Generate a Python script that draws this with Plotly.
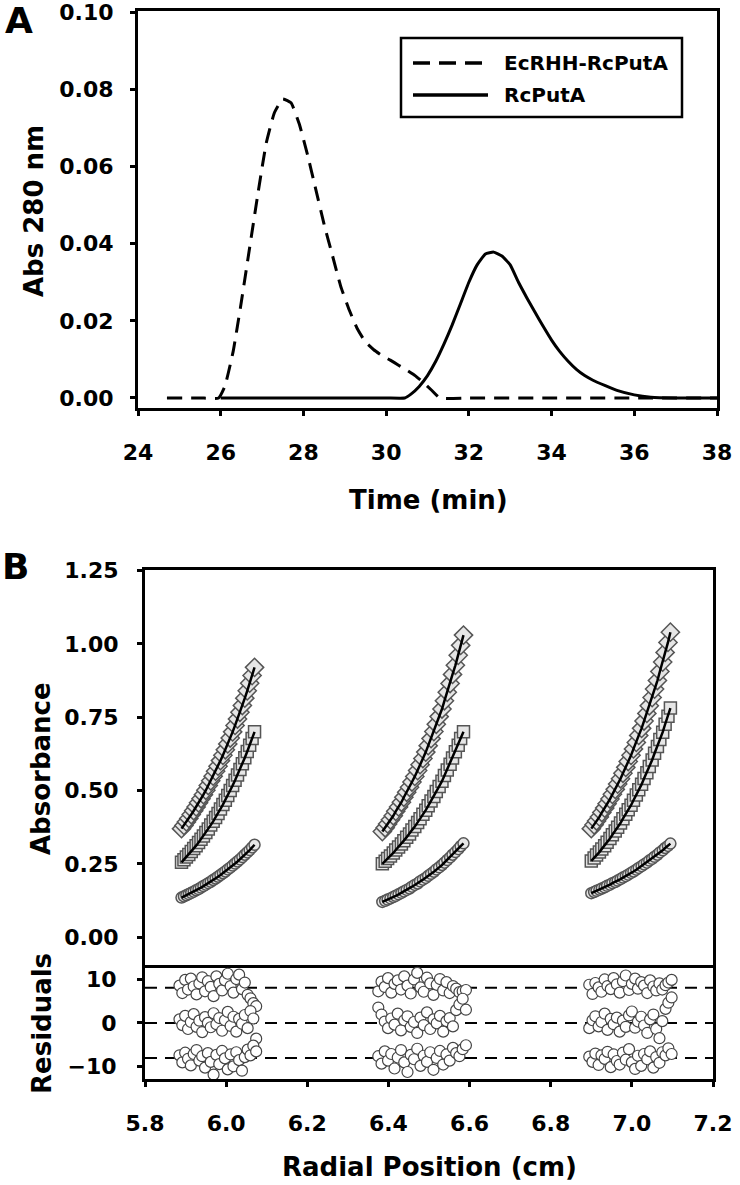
import plotly.graph_objects as go

W, H = 740, 1185
def px(x):
    return x / W
def py(y):
    return 1 - y / H

FONT = "DejaVu Sans"

# ---------------- Panel A: elution profiles ----------------
time_ec = [24.7, 25.5, 25.95, 26.1, 26.3, 26.5, 26.7, 26.9, 27.1, 27.3, 27.5, 27.7, 27.9,
           28.1, 28.3, 28.5, 28.7, 28.9, 29.1, 29.3, 29.5, 29.7, 29.9, 30.1, 30.3, 30.5,
           30.7, 30.9, 31.1, 31.3, 32.0, 34.0, 36.0, 38.0]
abs_ec = [0, 0, 0, 0.003, 0.012, 0.025, 0.039, 0.053, 0.066, 0.074, 0.0775, 0.0765, 0.071,
          0.063, 0.054, 0.045, 0.037, 0.029, 0.023, 0.018, 0.0145, 0.0125, 0.011, 0.0098,
          0.0085, 0.0072, 0.0058, 0.004, 0.002, 0.0, 0, 0, 0, 0]

time_rc = [26.0, 28.0, 30.0, 30.45, 30.6, 30.8, 31.0, 31.2, 31.4, 31.6, 31.8, 32.0, 32.2,
           32.4, 32.6, 32.8, 33.0, 33.2, 33.4, 33.6, 33.8, 34.0, 34.2, 34.4, 34.6, 34.8,
           35.0, 35.3, 35.6, 36.0, 36.4, 37.0, 38.0]
abs_rc = [0, 0, 0, 0, 0.001, 0.003, 0.0058, 0.0095, 0.014, 0.019, 0.0245, 0.030, 0.0345,
          0.0373, 0.0378, 0.0368, 0.0345, 0.030, 0.026, 0.0222, 0.0185, 0.015, 0.012,
          0.0095, 0.0074, 0.0058, 0.0046, 0.0032, 0.0019, 0.0008, 0.0002, 0, 0]

legend_names = ["EcRHH-RcPutA", "RcPutA"]
a_xticks = [24, 26, 28, 30, 32, 34, 36, 38]
a_yticks = [0.00, 0.02, 0.04, 0.06, 0.08, 0.10]

# ---------------- Panel B: sedimentation equilibrium ----------------
r_g1 = [5.890, 5.896, 5.902, 5.908, 5.914, 5.920, 5.926, 5.932, 5.938, 5.944, 5.950,
        5.956, 5.962, 5.968, 5.974, 5.980, 5.986, 5.992, 5.998, 6.004, 6.010, 6.016,
        6.022, 6.028, 6.034, 6.040, 6.046, 6.052, 6.058, 6.064, 6.070]
r_g2 = [6.385, 6.392, 6.398, 6.405, 6.412, 6.418, 6.425, 6.432, 6.438, 6.445, 6.452,
        6.458, 6.465, 6.472, 6.478, 6.485, 6.492, 6.498, 6.505, 6.512, 6.518, 6.525,
        6.532, 6.538, 6.545, 6.552, 6.558, 6.565, 6.572, 6.578, 6.585]
r_g3 = [6.900, 6.907, 6.913, 6.920, 6.926, 6.933, 6.939, 6.946, 6.952, 6.959, 6.965,
        6.972, 6.978, 6.985, 6.991, 6.998, 7.004, 7.011, 7.017, 7.024, 7.030, 7.037,
        7.043, 7.050, 7.056, 7.063, 7.069, 7.076, 7.082, 7.089, 7.095]

g1_diamond = [0.370, 0.381, 0.393, 0.405, 0.418, 0.431, 0.444, 0.458, 0.472, 0.486, 0.501,
              0.517, 0.533, 0.549, 0.566, 0.583, 0.602, 0.620, 0.639, 0.659, 0.679, 0.700,
              0.722, 0.744, 0.767, 0.790, 0.815, 0.840, 0.866, 0.892, 0.920]
g1_square = [0.255, 0.264, 0.273, 0.282, 0.292, 0.302, 0.312, 0.323, 0.334, 0.345, 0.357,
             0.369, 0.382, 0.395, 0.408, 0.422, 0.437, 0.452, 0.467, 0.483, 0.500, 0.517,
             0.535, 0.553, 0.572, 0.591, 0.612, 0.633, 0.654, 0.677, 0.700]
g1_circle = [0.135, 0.139, 0.143, 0.147, 0.151, 0.155, 0.160, 0.164, 0.169, 0.174, 0.179,
             0.184, 0.189, 0.195, 0.200, 0.206, 0.212, 0.218, 0.224, 0.231, 0.237, 0.244,
             0.251, 0.258, 0.265, 0.273, 0.281, 0.289, 0.297, 0.306, 0.315]

g2_diamond = [0.360, 0.373, 0.386, 0.400, 0.414, 0.429, 0.444, 0.460, 0.477, 0.494, 0.511,
              0.529, 0.548, 0.568, 0.588, 0.609, 0.631, 0.653, 0.677, 0.701, 0.726, 0.752,
              0.778, 0.806, 0.835, 0.865, 0.896, 0.927, 0.961, 0.995, 1.030]
g2_square = [0.250, 0.259, 0.268, 0.277, 0.287, 0.297, 0.307, 0.318, 0.329, 0.341, 0.352,
             0.365, 0.377, 0.391, 0.404, 0.419, 0.433, 0.448, 0.464, 0.480, 0.497, 0.514,
             0.532, 0.551, 0.570, 0.590, 0.611, 0.632, 0.654, 0.677, 0.700]
g2_circle = [0.120, 0.124, 0.128, 0.132, 0.137, 0.141, 0.146, 0.151, 0.156, 0.161, 0.166,
             0.172, 0.178, 0.183, 0.190, 0.196, 0.202, 0.209, 0.216, 0.223, 0.231, 0.238,
             0.246, 0.254, 0.263, 0.272, 0.281, 0.290, 0.300, 0.310, 0.320]

g3_diamond = [0.370, 0.383, 0.396, 0.410, 0.425, 0.440, 0.455, 0.471, 0.487, 0.504, 0.522,
              0.540, 0.559, 0.579, 0.599, 0.620, 0.642, 0.664, 0.688, 0.712, 0.737, 0.763,
              0.789, 0.817, 0.846, 0.875, 0.906, 0.938, 0.971, 1.005, 1.040]
g3_square = [0.260, 0.270, 0.280, 0.290, 0.301, 0.312, 0.324, 0.336, 0.349, 0.362, 0.375,
             0.389, 0.404, 0.419, 0.434, 0.450, 0.467, 0.485, 0.503, 0.521, 0.541, 0.561,
             0.582, 0.604, 0.627, 0.650, 0.674, 0.699, 0.726, 0.753, 0.781]
g3_circle = [0.150, 0.154, 0.158, 0.162, 0.166, 0.170, 0.175, 0.179, 0.184, 0.188, 0.193,
             0.198, 0.203, 0.208, 0.213, 0.219, 0.224, 0.230, 0.236, 0.242, 0.248, 0.254,
             0.261, 0.267, 0.274, 0.281, 0.289, 0.296, 0.304, 0.311, 0.319]

# residual radial positions
rr_g1 = [5.885, 5.892, 5.899, 5.906, 5.913, 5.920, 5.927, 5.934, 5.941, 5.948, 5.955, 5.962,
         5.969, 5.976, 5.983, 5.990, 5.997, 6.004, 6.011, 6.018, 6.025, 6.032, 6.039, 6.046,
         6.053, 6.060, 6.067, 6.074]
rr_g2 = [6.375, 6.383, 6.391, 6.399, 6.407, 6.415, 6.423, 6.431, 6.439, 6.447, 6.455, 6.463,
         6.471, 6.479, 6.487, 6.495, 6.503, 6.511, 6.519, 6.527, 6.535, 6.543, 6.551, 6.559,
         6.567, 6.575, 6.583, 6.591]
rr_g3 = [6.895, 6.903, 6.910, 6.918, 6.925, 6.933, 6.940, 6.948, 6.955, 6.963, 6.970, 6.978,
         6.985, 6.993, 7.000, 7.008, 7.015, 7.023, 7.030, 7.038, 7.045, 7.053, 7.060, 7.068,
         7.075, 7.083, 7.090, 7.098]

# residuals (x1000), one list per species; displayed offset by +8 / 0 / -8
res_g1_top = [0.5, -1.2, 1.8, -0.4, 2.1, 0.3, -1.5, 1.0, 2.4, -0.8, 1.5, 0.2, -1.9, 2.6,
              0.9, -0.6, 1.7, 3.2, 0.4, -1.1, 2.0, 3.0, -0.3, 1.2, -1.6, -2.4, -3.5, -4.2]
res_g1_mid = [0.8, -0.5, 1.6, -1.4, 0.2, 2.0, -0.9, 0.5, -2.1, 1.3, 0.0, -1.0, 2.2, -0.3,
              1.1, -1.8, 0.6, 2.5, -0.7, 1.4, -2.0, 0.9, -0.2, 1.8, -1.2, 2.7, 1.0, -3.6]
res_g1_bot = [0.6, -1.0, 1.2, -0.2, -1.7, 0.9, 1.8, -0.6, 0.4, -2.2, 1.1, -0.9, -3.8, 0.7,
              -1.4, 1.6, -0.1, -2.6, 0.8, -1.9, 1.3, -0.5, -2.9, 0.2, 1.9, 0.6, 2.8, 1.5]

res_g2_top = [-0.8, 1.4, 0.2, 2.2, -1.1, 0.9, 1.7, -0.4, 2.6, 0.5, -1.3, 1.9, 3.4, 0.1,
              -0.9, 2.3, 1.0, -1.6, 0.7, 2.0, -0.6, 1.3, -1.2, 0.4, -0.2, -1.0, -0.8, -0.5]
res_g2_mid = [3.5, 1.9, 0.3, -1.2, 1.0, -0.4, 2.1, -1.7, 0.6, 1.5, -0.9, 0.2, -2.3, 1.2,
              -0.5, 2.4, -1.4, 0.8, -0.1, 1.6, -2.0, 0.4, 1.1, -0.8, 2.9, 4.2, 5.5, 3.0]
res_g2_bot = [0.4, -1.3, 1.5, -0.6, 0.9, -2.4, 0.1, 1.8, -1.0, -3.2, 0.7, -0.3, 2.1, -1.8,
              0.5, -0.9, 1.3, -2.7, 0.0, 1.6, -1.5, 0.8, -0.6, 2.3, 1.1, 0.4, 2.0, 2.9]

res_g3_top = [0.7, -1.4, 1.1, 0.1, -0.9, 1.9, 0.4, -0.3, 2.2, 0.8, -1.1, 1.5, 2.8, -0.5,
              0.9, 2.1, -0.2, 1.3, 0.5, -1.2, 1.7, 0.3, -0.6, 1.0, -0.4, 0.6, 1.2, 1.8]
res_g3_mid = [-1.2, 0.6, 1.5, -0.8, 0.2, 2.1, -1.6, 0.9, -0.3, 1.2, -2.0, 0.5, -0.9, 1.7,
              2.6, -1.1, 0.3, 1.4, -0.6, -2.3, 0.8, 1.9, -1.4, -3.5, 0.4, 3.2, 4.6, 5.8]
res_g3_bot = [0.3, -0.9, 1.0, -1.6, 0.6, -0.2, 1.4, -2.1, 0.8, -0.7, -1.5, 1.2, -0.4, 2.0,
              -1.0, -2.5, 0.5, -1.8, 0.9, -0.3, 1.5, -2.2, 0.2, -1.1, 1.3, 0.6, 2.2, 0.9]

res_offsets = [8, 0, -8]
b_yticks = [0.00, 0.25, 0.50, 0.75, 1.00, 1.25]
b_res_ticks = [-10, 0, 10]
b_xticks = [5.8, 6.0, 6.2, 6.4, 6.6, 6.8, 7.0, 7.2]

# ---------------- figure ----------------
fig = go.Figure()

# Panel A
fig.add_trace(go.Scatter(x=time_ec, y=abs_ec, mode="lines", name=legend_names[0],
                         line=dict(color="black", width=3, dash="15px,9px",
                                   shape="spline", smoothing=0.4),
                         xaxis="x", yaxis="y", showlegend=False))
fig.add_trace(go.Scatter(x=time_rc, y=abs_rc, mode="lines", name=legend_names[1],
                         line=dict(color="black", width=3, shape="spline", smoothing=0.4),
                         xaxis="x", yaxis="y", showlegend=False))

# Panel B absorbance
groups = [
    (r_g1, [g1_diamond, g1_square, g1_circle]),
    (r_g2, [g2_diamond, g2_square, g2_circle]),
    (r_g3, [g3_diamond, g3_square, g3_circle]),
]
symbols = ["diamond", "square", "circle"]
sizes = [14, 12, 11]
for rx, series in groups:
    for sym, sz, ys in zip(symbols, sizes, series):
        fig.add_trace(go.Scatter(
            x=rx, y=ys, mode="markers", xaxis="x2", yaxis="y2", showlegend=False,
            marker=dict(symbol=sym, size=sz, color="#e6e6e6",
                        line=dict(color="#555555", width=1.5))))
for rx, series in groups:
    for ys in series:
        fig.add_trace(go.Scatter(
            x=rx, y=ys, mode="lines", xaxis="x2", yaxis="y2", showlegend=False,
            line=dict(color="black", width=2.5)))

# Panel B residuals
res_groups = [
    (rr_g1, [res_g1_top, res_g1_mid, res_g1_bot]),
    (rr_g2, [res_g2_top, res_g2_mid, res_g2_bot]),
    (rr_g3, [res_g3_top, res_g3_mid, res_g3_bot]),
]
for rx, bands in res_groups:
    for off, vals in zip(res_offsets, bands):
        fig.add_trace(go.Scatter(
            x=rx, y=[v + off for v in vals], mode="markers", xaxis="x3", yaxis="y3",
            showlegend=False,
            marker=dict(symbol="circle", size=11, color="white",
                        line=dict(color="#444444", width=1.2))))

tickfont = dict(family=FONT, size=22, color="black", weight="bold")
axis_common = dict(showgrid=False, zeroline=False, showline=True, linecolor="black",
                   linewidth=3, mirror=True, ticks="outside", ticklen=5, tickwidth=3,
                   tickcolor="black", tickfont=tickfont, automargin=False,
                   ticklabeloverflow="allow")

fig.update_layout(
    template="none",
    width=W, height=H,
    margin=dict(l=0, r=0, t=0, b=0, pad=0),
    paper_bgcolor="white", plot_bgcolor="white",
    showlegend=False,
    xaxis=dict(axis_common, domain=[px(138), px(717)], range=[24, 38], anchor="y",
               tickvals=a_xticks, ticklabelstandoff=18),
    yaxis=dict(axis_common, domain=[py(408), py(11)], range=[-0.0026, 0.1003], anchor="x",
               tickvals=a_yticks, tickformat=".2f", ticklabelstandoff=12),
    xaxis2=dict(axis_common, domain=[px(145), px(713)], range=[5.8, 7.2], anchor="y2",
                showticklabels=False, ticks=""),
    yaxis2=dict(axis_common, domain=[py(965), py(570)], range=[-0.095, 1.252], anchor="x2",
                tickvals=b_yticks, tickformat=".2f", ticklabelstandoff=14),
    xaxis3=dict(axis_common, domain=[px(145), px(713)], range=[5.8, 7.2], anchor="y3",
                matches="x2", tickvals=b_xticks, tickformat=".1f", ticklabelstandoff=18,
                mirror=False),
    yaxis3=dict(axis_common, domain=[py(1079), py(965)], range=[-12.8, 13.2], anchor="x3",
                tickvals=b_res_ticks, ticklabelstandoff=16),
)

# dashed reference lines in residual panel
for off in res_offsets:
    fig.add_shape(type="line", xref="x3 domain", yref="y3", x0=0, x1=1, y0=off, y1=off,
                  line=dict(color="black", width=2, dash="12px,8px"), layer="below")

title_font = dict(family=FONT, size=26, color="black", weight="bold")
letter_font = dict(family=FONT, size=36, color="black", weight="bold")
ann = [
    dict(text="A", x=px(19), y=py(21), font=letter_font),
    dict(text="B", x=px(15), y=py(566), font=letter_font),
    dict(text="Abs 280 nm", x=px(34), y=py(211), textangle=-90, font=title_font),
    dict(text="Time (min)", x=px(428), y=py(500), font=title_font),
    dict(text="Absorbance", x=px(41), y=py(769), textangle=-90, font=title_font),
    dict(text="Residuals", x=px(42), y=py(1024), textangle=-90, font=title_font),
    dict(text="Radial Position (cm)", x=px(429), y=py(1167), font=title_font),
]
for a in ann:
    fig.add_annotation(xref="paper", yref="paper", showarrow=False,
                       xanchor="center", yanchor="middle", **a)

# legend box (panel A)
leg_font = dict(family=FONT, size=20, color="black", weight="bold")
fig.add_shape(type="rect", xref="paper", yref="paper", x0=px(401), x1=px(682),
              y0=py(117), y1=py(38), line=dict(color="black", width=2.5),
              fillcolor="white", layer="above")
fig.add_shape(type="line", xref="paper", yref="paper", x0=px(413), x1=px(484),
              y0=py(63), y1=py(63), line=dict(color="black", width=3.5, dash="17px,9px"))
fig.add_shape(type="line", xref="paper", yref="paper", x0=px(413), x1=px(488),
              y0=py(95), y1=py(95), line=dict(color="black", width=3.5))
for name, yy in zip(legend_names, [63, 95]):
    fig.add_annotation(xref="paper", yref="paper", showarrow=False, text=name,
                       x=px(502), y=py(yy), xanchor="left", yanchor="middle", font=leg_font)

fig.write_html("out.html",
               config={"displayModeBar": False},
               post_script="document.body.style.margin='0px';"
                           "document.body.style.overflow='hidden';")
